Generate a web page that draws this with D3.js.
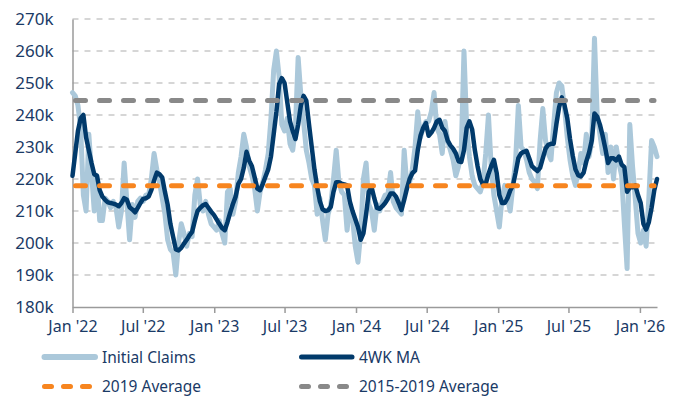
<!DOCTYPE html>
<html>
<head>
<meta charset="utf-8">
<script src="https://cdn.jsdelivr.net/npm/d3@7"></script>
<style>
  html, body { margin: 0; padding: 0; background: #fff; }
  svg { display: block; font-family: 'Noto Sans', sans-serif; }
</style>
</head>
<body>
<div id="chart"></div>
<script>
// Initial jobless claims, weekly, Jan 2022 - Feb 2026 (thousands).
// Light blue = weekly claims, navy = 4-week moving average, dashed = reference averages.

const START_WEEK = new Date(2022, 0, 1);   // first week-ending date
const END_DATE = new Date(2026, 1, 14);

const INITIAL_CLAIMS = [
  247, 246, 243, 236, 215, 210, 234, 222, 210, 221, 207, 207, 214, 213, 211, 213, 211, 205, 210, 225,
  213, 201, 212, 208, 213, 214, 213, 215, 215, 220, 228, 223, 219, 214, 209, 201, 198, 197, 190, 200,
  206, 203, 199, 203,
  202, 215, 220, 212, 210, 213, 209, 206, 205, 204, 207, 203, 200, 216, 217, 209, 213, 222, 227, 234,
  230, 224, 221, 217, 210, 216, 219, 223, 228, 239, 254, 260, 252, 237, 235, 239, 231, 229, 236, 258,
  246, 238, 229,
  225, 220, 218, 209, 214, 207, 201, 209, 212, 220, 229, 219, 216, 215, 204, 212, 208, 199, 194, 203,
  220, 225, 212, 210, 204, 212, 210, 213, 215, 215, 222, 213, 211, 210, 209, 229, 218, 219, 223, 230,
  241, 233, 236, 238,
  238, 241, 247, 236, 234, 228, 238, 232, 229, 226, 221, 224, 229, 260, 236, 227, 221, 218, 217, 216,
  219, 228, 240, 224, 215, 210, 205, 214, 218, 214, 210, 218, 226, 243, 230, 229, 226, 222, 220, 219,
  217, 232, 242,
  232, 228, 226, 237, 247, 250, 249, 242, 233, 226, 221, 218, 222, 228, 225, 234, 227, 232, 264, 240,
  234, 228, 234, 222, 230, 220, 230, 225, 221, 206, 192, 237, 224, 214, 203, 200, 204, 199, 214, 232,
  230, 227,
];

const MA_4WK = [
  221, 228, 235, 239, 240, 233, 229, 225, 221.5, 221, 216.5, 214.5, 213.5, 212.7, 212.5, 212.3, 212, 211.5, 212.5, 214,
  213.5, 211.2, 210.5, 209.6, 211, 212.5, 213.8, 214, 214.5, 216.5, 219.5, 222, 221.5, 220.5, 216, 212, 206, 202, 198, 197.7,
  198.5, 199.8, 201, 202.4,
  203.5, 207, 210, 211, 211.8, 212.2, 211, 209.8, 208.8, 207.4, 206, 204.7, 204, 206.5, 209.5, 212.2, 214.5, 218.5, 220, 223.5,
  228.5, 225.7, 224, 220.5, 217, 216.5, 218.5, 220.8, 223, 227, 234, 241, 249.6, 251.5, 250, 244, 238, 235, 232.5, 237,
  243, 246, 244.5,
  237, 230, 223, 217.5, 213, 210.5, 210, 210.2, 211.3, 216, 219, 219, 218.5, 218.3, 218, 213, 210, 207.5, 205, 201,
  203, 209, 216, 217.5, 214, 211, 210.7, 211.5, 212.5, 213.8, 215.5, 215.5, 214.5, 212.5, 210.3, 213.5, 217, 220, 221.8, 222.6,
  229, 233.5, 236, 237.5,
  233.5, 234.5, 236, 238, 238.5, 236, 235, 232, 230.5, 229.5, 228, 225.5, 225.3, 229, 236, 238, 235.5, 229, 224, 220,
  218.3, 218.5, 221.6, 224, 226, 222, 215, 212.5, 212.5, 214, 216.4, 218, 222, 226.5, 228, 228.5, 228.8, 226.5, 224, 223.2,
  222.5, 223.5, 226.5,
  229.5, 230.7, 231, 231, 237.2, 242.5, 245.5, 243, 239, 232.5, 227.3, 223, 221.2, 220.8, 222, 225.5, 228.2, 232, 240.5, 239.5,
  237, 233.5, 229.5, 225, 226.5, 226.5, 225.8, 227, 224.5, 223.7, 216, 217.4, 217.4, 218, 215, 212.5, 206, 204.2, 206.5, 211,
  216.5, 220,
];

const AVG_2019 = 217.9;
const AVG_2015_2019 = 244.5;

const Y_TICKS = [180, 190, 200, 210, 220, 230, 240, 250, 260, 270];
const X_TICKS = [
  new Date(2022, 0, 1), new Date(2022, 6, 1), new Date(2023, 0, 1), new Date(2023, 6, 1),
  new Date(2024, 0, 1), new Date(2024, 6, 1), new Date(2025, 0, 1), new Date(2025, 6, 1),
  new Date(2026, 0, 1),
];

const LIGHT_BLUE = '#abc8da';
const NAVY = '#013a6b';
const ORANGE = '#f7851f';
const GREY = '#898989';
const TEXT = '#1a3a66';

const W = 675, H = 401;
const M = { left: 72.5, right: 18, top: 19, bottom: 94 };

const weeks = INITIAL_CLAIMS.map((_, i) => d3.timeWeek.offset(START_WEEK, i));
const claims = weeks.map((d, i) => ({ date: d, v: INITIAL_CLAIMS[i] }));
const ma = weeks.map((d, i) => ({ date: d, v: MA_4WK[i] }));

const x = d3.scaleTime()
  .domain([START_WEEK, END_DATE])
  .range([M.left, W - M.right]);

const y = d3.scaleLinear()
  .domain([180, 270])
  .range([H - M.bottom, M.top]);

const svg = d3.select('#chart').append('svg')
  .attr('width', W)
  .attr('height', H);

// --- Grid ---
svg.append('g')
  .selectAll('line')
  .data(Y_TICKS.filter(t => t > 180))
  .enter().append('line')
  .attr('x1', x.range()[0]).attr('x2', x.range()[1])
  .attr('y1', d => y(d)).attr('y2', d => y(d))
  .attr('stroke', '#c9c9c9')
  .attr('stroke-width', 1.5)
  .attr('stroke-dasharray', '6,6');

// --- Axes ---
const yAxis = d3.axisLeft(y)
  .tickValues(Y_TICKS)
  .tickFormat(d => d + 'k')
  .tickSize(0)
  .tickPadding(19);

svg.append('g')
  .attr('transform', `translate(${M.left},0)`)
  .call(yAxis)
  .call(ax => ax.select('.domain').attr('stroke', '#9a9a9a').attr('stroke-width', 1.5))
  .call(ax => ax.selectAll('.tick text')
    .attr('fill', TEXT).attr('font-size', 17).attr('font-family', "'Noto Sans', sans-serif"));

const xAxis = d3.axisBottom(x)
  .tickValues(X_TICKS)
  .tickFormat(d3.timeFormat("%b '%y"))
  .tickSizeInner(6)
  .tickSizeOuter(0)
  .tickPadding(8);

svg.append('g')
  .attr('transform', `translate(0,${y(180)})`)
  .call(xAxis)
  .call(ax => ax.select('.domain').attr('stroke', '#9a9a9a').attr('stroke-width', 1.5))
  .call(ax => ax.selectAll('.tick line').attr('stroke', '#9a9a9a').attr('stroke-width', 1.5))
  .call(ax => ax.selectAll('.tick text')
    .attr('fill', TEXT).attr('font-size', 16).attr('font-family', "'Noto Sans', sans-serif"));

// --- Series ---
const line = d3.line()
  .x(d => x(d.date))
  .y(d => y(d.v));

svg.append('path')
  .datum(claims)
  .attr('d', line)
  .attr('fill', 'none')
  .attr('stroke', LIGHT_BLUE)
  .attr('stroke-width', 5)
  .attr('stroke-linejoin', 'round')
  .attr('stroke-linecap', 'round');

svg.append('path')
  .datum(ma)
  .attr('d', line)
  .attr('fill', 'none')
  .attr('stroke', NAVY)
  .attr('stroke-width', 4.5)
  .attr('stroke-linejoin', 'round')
  .attr('stroke-linecap', 'round');

// Reference averages
[[AVG_2019, ORANGE], [AVG_2015_2019, GREY]].forEach(([v, c]) => {
  svg.append('line')
    .attr('x1', x.range()[0] + 3).attr('x2', x.range()[1] - 3)
    .attr('y1', y(v)).attr('y2', y(v))
    .attr('stroke', c)
    .attr('stroke-width', 5)
    .attr('stroke-linecap', 'round')
    .attr('stroke-dasharray', '10,14');
});

// --- Legend ---
const legend = [
  { label: 'Initial Claims', color: LIGHT_BLUE, w: 6, dash: null, x: 42, y: 357 },
  { label: '4WK MA', color: NAVY, w: 5, dash: null, x: 299, y: 357 },
  { label: '2019 Average', color: ORANGE, w: 5, dash: '7,12', x: 42, y: 386.5 },
  { label: '2015-2019 Average', color: GREY, w: 5, dash: '7,12', x: 299, y: 386.5 },
];

const lg = svg.append('g');
legend.forEach(d => {
  lg.append('line')
    .attr('x1', d.x + 2.5).attr('x2', d.x + 53)
    .attr('y1', d.y).attr('y2', d.y)
    .attr('stroke', d.color)
    .attr('stroke-width', d.w)
    .attr('stroke-linecap', 'round')
    .attr('stroke-dasharray', d.dash);
  lg.append('text')
    .attr('x', d.x + 60).attr('y', d.y + 5.5)
    .attr('fill', TEXT)
    .attr('font-size', 15.5)
    .text(d.label);
});
</script>
</body>
</html>
